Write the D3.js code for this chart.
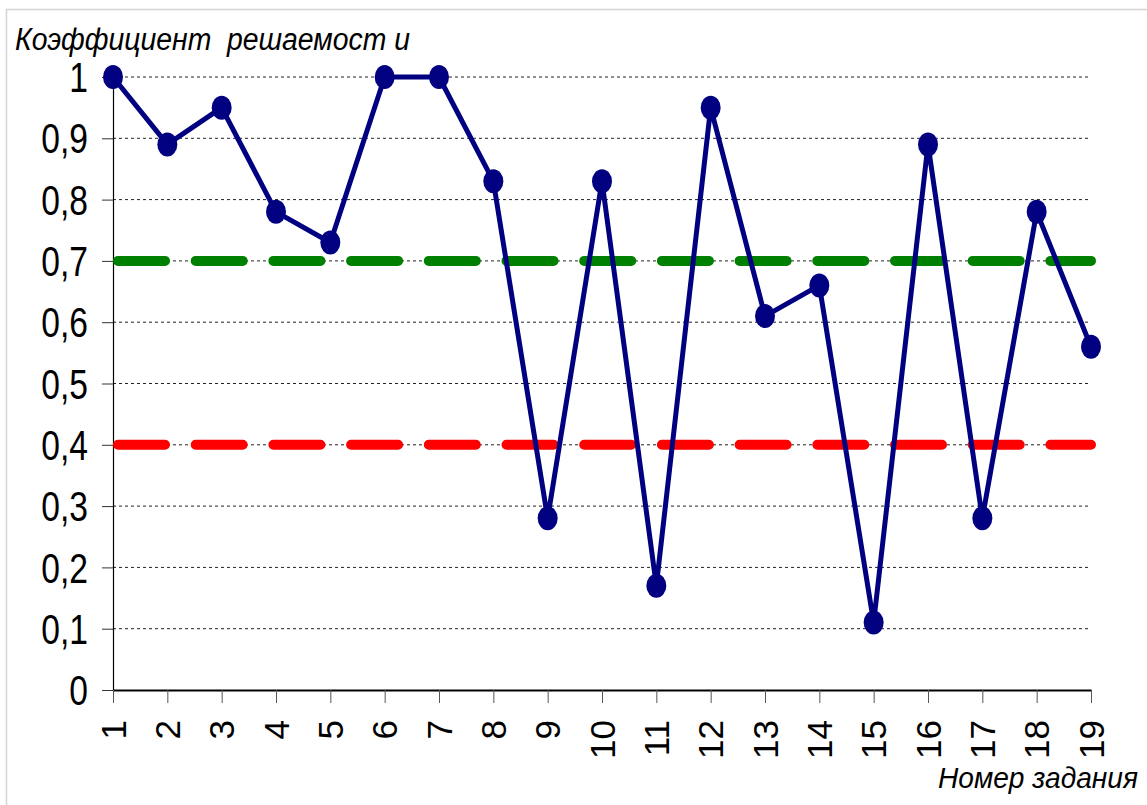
<!DOCTYPE html>
<html>
<head>
<meta charset="utf-8">
<script src="https://cdn.jsdelivr.net/npm/d3@7"></script>
<style>
  html, body { margin: 0; padding: 0; background: #fff; }
  svg { display: block; }
  text { font-family: "Liberation Sans", Arial, sans-serif; fill: #000; }
</style>
</head>
<body>
<svg id="chart" width="1147" height="805"></svg>
<script>
// Task numbers and their solvability coefficients
const tasks = [1, 2, 3, 4, 5, 6, 7, 8, 9, 10, 11, 12, 13, 14, 15, 16, 17, 18, 19];
const coefficients = [1.0, 0.89, 0.95, 0.78, 0.73, 1.0, 1.0, 0.83, 0.28, 0.83, 0.17, 0.95, 0.61, 0.66, 0.11, 0.89, 0.28, 0.78, 0.56];
const yTicks = [0, 0.1, 0.2, 0.3, 0.4, 0.5, 0.6, 0.7, 0.8, 0.9, 1];
// Reference levels: upper (green) and lower (red) bounds
const upperLevel = 0.7;
const lowerLevel = 0.4;
const yTitle = "Коэффициент  решаемост и";
const xTitle = "Номер задания";

const svg = d3.select("#chart");

// frame
svg.append("rect")
  .attr("x", 6.5).attr("y", 9.5)
  .attr("width", 1300).attr("height", 1000)
  .attr("fill", "none").attr("stroke", "#d4d4d4").attr("stroke-width", 1.5);

const x = d3.scalePoint().domain(tasks).range([113, 1091]);
const y = d3.scaleLinear().domain([0, 1]).range([690, 77]);

// dotted gridlines
svg.append("g").selectAll("line")
  .data(yTicks.filter(d => d > 0))
  .join("line")
  .attr("x1", 113).attr("x2", 1091)
  .attr("y1", d => y(d)).attr("y2", d => y(d))
  .attr("stroke", "#222").attr("stroke-width", 1)
  .attr("stroke-dasharray", "3,3");

// y axis
const yAxis = svg.append("g").attr("transform", "translate(113,0)")
  .call(d3.axisLeft(y).tickValues(yTicks).tickSize(11).tickFormat(""));
yAxis.select(".domain").attr("stroke", "#000").attr("stroke-width", 1.2);
yAxis.selectAll(".tick line").attr("stroke", "#333").attr("stroke-width", 1);

const fmt = d => d3.format(".1~f")(d).replace(".", ",");
svg.append("g").selectAll("text")
  .data(yTicks)
  .join("text")
  .attr("transform", d => `translate(88,${y(d)}) scale(0.8,1)`)
  .attr("text-anchor", "end")
  .attr("dy", "0.36em")
  .attr("font-size", 42)
  .text(fmt);

// x axis
const xAxis = svg.append("g").attr("transform", "translate(0,690)")
  .call(d3.axisBottom(x).tickSize(13).tickSizeOuter(0).tickFormat(""));
xAxis.select(".domain").attr("stroke", "#000").attr("stroke-width", 2);
xAxis.selectAll(".tick line").attr("stroke", "#555").attr("stroke-width", 1);

svg.append("g").selectAll("text")
  .data(tasks)
  .join("text")
  .attr("transform", d => `translate(${x(d)},720) rotate(-90)`)
  .attr("text-anchor", "end")
  .attr("dy", "0.36em")
  .attr("font-size", 35)
  .text(d => d);

// reference level lines
const levelLine = (val, color) => svg.append("line")
  .attr("x1", 113).attr("x2", 1091)
  .attr("y1", y(val)).attr("y2", y(val))
  .attr("stroke", color).attr("stroke-width", 10)
  .attr("stroke-linecap", "round")
  .attr("stroke-dasharray", "47 30.7")
  .attr("stroke-dashoffset", -5);
levelLine(upperLevel, "#008000");
levelLine(lowerLevel, "#ff0000");

// series line
const pts = tasks.map((t, i) => [x(t), y(coefficients[i])]);
svg.append("path")
  .attr("d", d3.line()(pts))
  .attr("fill", "none").attr("stroke", "#000080")
  .attr("stroke-width", 5).attr("stroke-linejoin", "round");

svg.append("g").selectAll("ellipse")
  .data(pts)
  .join("ellipse")
  .attr("cx", d => d[0]).attr("cy", d => d[1])
  .attr("rx", 10).attr("ry", 12)
  .attr("fill", "#000080");

// axis titles
svg.append("text")
  .attr("x", 15).attr("y", 50)
  .attr("font-size", 31).attr("font-style", "italic")
  .attr("textLength", 395).attr("lengthAdjust", "spacingAndGlyphs")
  .style("white-space", "pre")
  .text(yTitle);

svg.append("text")
  .attr("x", 1138).attr("y", 788)
  .attr("text-anchor", "end")
  .attr("font-size", 29).attr("font-style", "italic")
  .attr("textLength", 200).attr("lengthAdjust", "spacingAndGlyphs")
  .text(xTitle);
</script>
</body>
</html>
